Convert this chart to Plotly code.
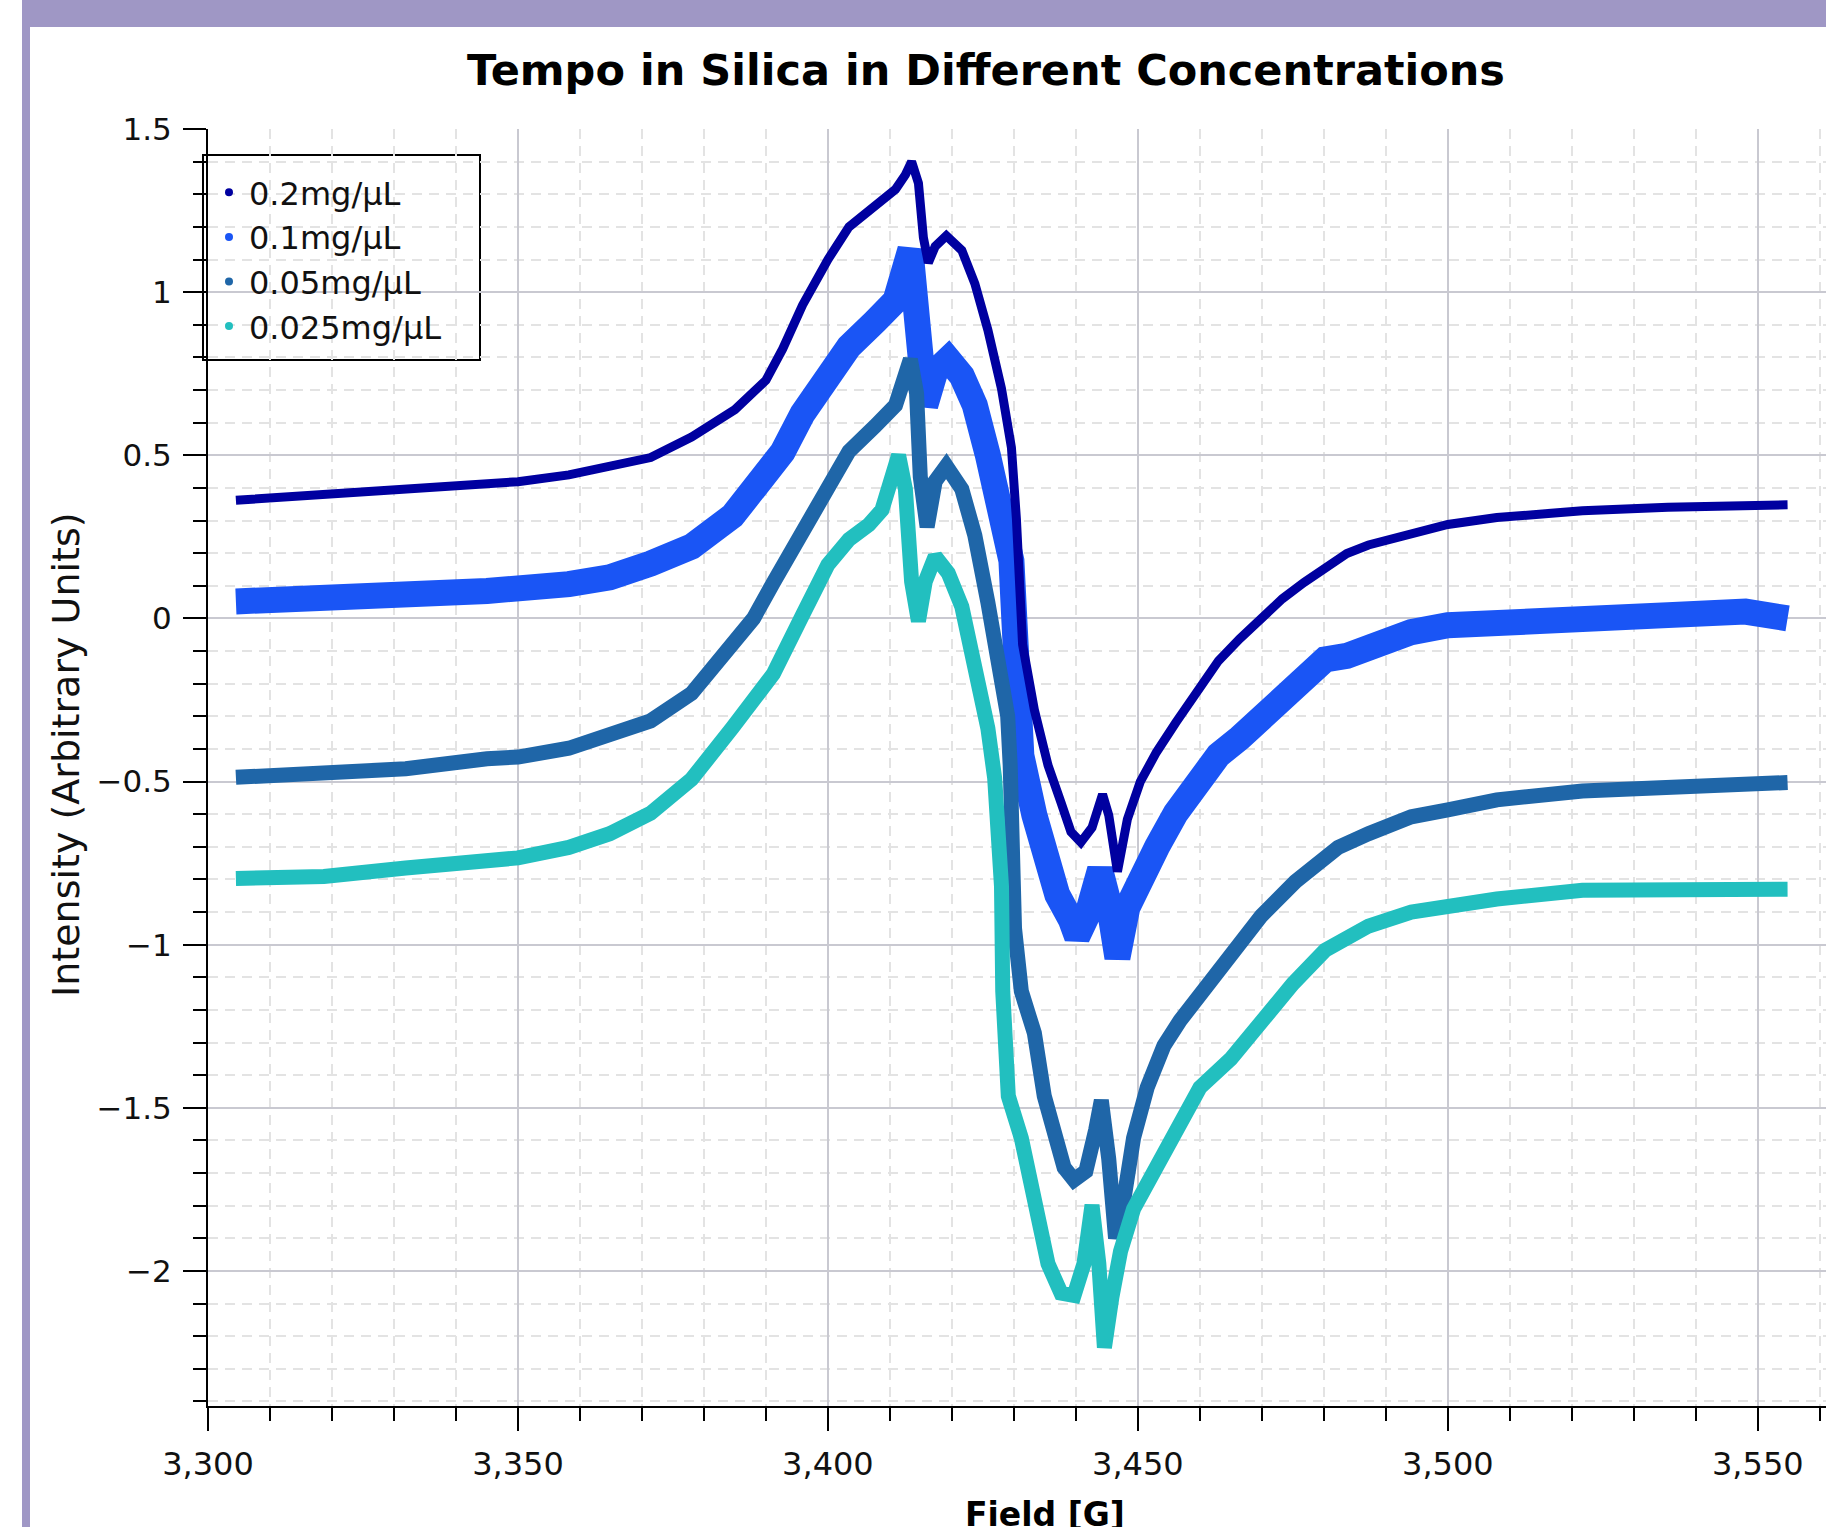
import plotly.graph_objects as go

# ---------------- data ----------------
series_names = ["0.2mg/µL", "0.1mg/µL", "0.05mg/µL", "0.025mg/µL"]
series_colors = ["#0000a0", "#1a55f5", "#1f66a8", "#22bfbf"]

field_02 = [3304.5, 3318.7, 3331.9, 3345, 3350, 3358.2, 3364.8, 3371.4, 3378, 3382.6,
            3385, 3390, 3392.7, 3395.9, 3400, 3403.4, 3407.6, 3410.9, 3412.5, 3413.5,
            3414.6, 3415.4, 3416.2, 3417.3, 3419.1, 3421.6, 3423.7, 3425.8, 3428, 3429.6,
            3430.4, 3430.9, 3431.4, 3433.3, 3435.5, 3437.6, 3439.2, 3440.8, 3442.6, 3444.3,
            3445.3, 3446.7, 3448.3, 3450.4, 3453, 3456.1, 3459.5, 3463, 3466.4, 3469.9,
            3473.3, 3476.8, 3480.2, 3483.7, 3487.2, 3494.1, 3500, 3507.9, 3521.7, 3535.5,
            3554.8]
int_02 = [0.362, 0.379, 0.393, 0.414, 0.419, 0.44, 0.466, 0.493, 0.556, 0.608,
          0.64, 0.73, 0.826, 0.96, 1.10, 1.20, 1.263, 1.315, 1.36, 1.40,
          1.334, 1.167, 1.09, 1.14, 1.173, 1.128, 1.026, 0.884, 0.704, 0.524,
          0.306, 0.113, -0.08, -0.28, -0.45, -0.564, -0.654, -0.686, -0.641, -0.539,
          -0.603, -0.776, -0.616, -0.50, -0.41, -0.32, -0.225, -0.13, -0.063, 0.0,
          0.06, 0.11, 0.157, 0.199, 0.225, 0.262, 0.288, 0.309, 0.33, 0.341,
          0.348]

field_01 = [3304.5, 3318.7, 3331.9, 3345, 3358.2, 3364.8, 3371.4, 3378, 3384.6, 3391.2,
            3392.7, 3395.9, 3400, 3403.4, 3407.6, 3410.9, 3413.3, 3414.3, 3415.1, 3415.7,
            3417.3, 3419.4, 3421.6, 3423.7, 3425.8, 3428, 3429.6, 3430.1, 3430.6, 3431.2,
            3433.3, 3434.9, 3437.0, 3439.2, 3440.2, 3441.8, 3443.9, 3445.3, 3446.7, 3448.3,
            3450.4, 3453.1, 3456.1, 3459.5, 3463, 3466.4, 3469.9, 3473.3, 3476.8, 3480.2,
            3483.7, 3487.2, 3494.1, 3500, 3507.9, 3521.7, 3535.5, 3548, 3554.8]
int_01 = [0.052, 0.063, 0.063, 0.084, 0.105, 0.126, 0.168, 0.22, 0.314, 0.45,
          0.51, 0.627, 0.756, 0.833, 0.91, 0.974, 1.13, 0.987, 0.756, 0.653,
          0.756, 0.794, 0.743, 0.653, 0.50, 0.344, 0.177, -0.015, -0.208, -0.42,
          -0.603, -0.731, -0.847, -0.924, -0.976, -0.911, -0.77, -0.873, -1.04, -0.886,
          -0.783, -0.70, -0.597, -0.503, -0.419, -0.367, -0.304, -0.231, -0.189, -0.126,
          -0.115, -0.084, -0.042, -0.021, -0.01, 0.005, 0.01, 0.021, 0.0]

field_005 = [3304.5, 3318.7, 3331.9, 3345, 3350, 3358.2, 3364.8, 3371.4, 3378, 3384.6,
             3388, 3391.2, 3395.9, 3400, 3403.4, 3407.6, 3410.9, 3413.3, 3414.3, 3414.9,
             3416, 3417.3, 3419.1, 3421.6, 3423.7, 3425.8, 3427.4, 3429, 3429.4, 3429.6,
             3430.1, 3431.2, 3433.3, 3434.9, 3436.5, 3438.1, 3439.7, 3441.6, 3443.2, 3444.1,
             3445.3, 3446.4, 3447.7, 3449.3, 3451.5, 3454.2, 3456.8, 3460, 3464.4, 3469.9,
             3475.4, 3482.3, 3487.2, 3494.1, 3500, 3507.9, 3521.7, 3535.5, 3554.8]
int_005 = [-0.487, -0.472, -0.461, -0.43, -0.425, -0.398, -0.356, -0.314, -0.23, -0.084,
           0.0, 0.11, 0.26, 0.409, 0.512, 0.589, 0.653, 0.794, 0.69, 0.434,
           0.28, 0.42, 0.467, 0.396, 0.254, 0.049, -0.144, -0.30, -0.45, -0.693,
           -0.95, -1.143, -1.271, -1.464, -1.593, -1.683, -1.721, -1.695, -1.567, -1.477,
           -1.657, -1.90, -1.785, -1.593, -1.438, -1.31, -1.233, -1.155, -1.03, -0.912,
           -0.807, -0.702, -0.66, -0.608, -0.587, -0.556, -0.529, -0.514, -0.503]

field_0025 = [3304.5, 3318.7, 3331.9, 3350, 3358.2, 3364.8, 3371.4, 3378, 3384.6, 3391.2,
              3395.9, 3400, 3403.4, 3406.6, 3408.7, 3411.4, 3412.5, 3413.5, 3414.6, 3415.7,
              3417.3, 3419.4, 3421.6, 3423.7, 3425.8, 3426.9, 3428, 3428.2, 3429.1, 3431.2,
              3433.3, 3435.5, 3437.6, 3439.7, 3441.3, 3442.6, 3443.7, 3444.6, 3445.8, 3447.2,
              3449.3, 3452.6, 3455.7, 3460, 3465, 3470, 3475, 3480.2, 3487.2, 3494.1,
              3500, 3507.9, 3521.7, 3535.5, 3554.8]
int_0025 = [-0.797, -0.791, -0.765, -0.734, -0.702, -0.66, -0.597, -0.493, -0.335, -0.17,
            0.01, 0.165, 0.242, 0.287, 0.332, 0.50, 0.396, 0.113, -0.009, 0.113,
            0.19, 0.139, 0.036, -0.144, -0.337, -0.49, -0.821, -1.143, -1.464, -1.593,
            -1.785, -1.978, -2.068, -2.075, -1.978, -1.798, -1.978, -2.235, -2.081, -1.94,
            -1.81, -1.695, -1.567, -1.438, -1.35, -1.23, -1.12, -1.017, -0.943, -0.90,
            -0.88, -0.86, -0.833, -0.828, -0.83]

x_ticks = [3300, 3350, 3400, 3450, 3500, 3550]
y_ticks = [1.5, 1, 0.5, 0, -0.5, -1, -1.5, -2]

# ---------------- layout geometry (pixels) ----------------
W, H = 1826, 1527
L, R, T, B = 208, 0, 129, 121
pw, ph = W - L - R, H - T - B


def px(xp):
    return (xp - L) / pw


def py(yp):
    return (H - B - yp) / ph


FONT = "DejaVu Sans"

fig = go.Figure()

fields = [field_02, field_01, field_005, field_0025]
ints = [int_02, int_01, int_005, int_0025]
widths = [9, 26, 15, 15]
draw_order = [1, 0, 2, 3]
for i in draw_order:
    fig.add_trace(go.Scatter(
        x=fields[i], y=ints[i], mode="lines", name=series_names[i],
        line=dict(color=series_colors[i], width=widths[i]),
        showlegend=False, hoverinfo="x+y"))

# legend entries (dot markers, as in the reference)
for i in range(4):
    fig.add_trace(go.Scatter(
        x=[None], y=[None], mode="markers", name=series_names[i],
        marker=dict(color=series_colors[i], size=8, symbol="circle"),
        showlegend=True))

fig.update_layout(
    width=W, height=H, autosize=False,
    margin=dict(l=L, r=R, t=T, b=B, pad=0),
    paper_bgcolor="white", plot_bgcolor="white",
    font=dict(family=FONT, color="#111111", size=32),
    title=dict(text="Tempo in Silica in Different Concentrations",
               font=dict(family=FONT, size=43, color="black", weight="bold"),
               x=px(986), xref="paper", xanchor="center",
               y=1 - 70 / H, yref="container", yanchor="middle"),
    legend=dict(x=px(209), y=py(165), xanchor="left", yanchor="top",
                bgcolor="rgba(0,0,0,0)", borderwidth=0,
                font=dict(family=FONT, size=32, color="#111111"),
                itemwidth=30, tracegroupgap=0),
    showlegend=True,
    xaxis=dict(range=[3300, 3561], tickvals=x_ticks, tickformat=",d",
               ticks="outside", ticklen=23, tickwidth=2, tickcolor="black",
               showline=True, linewidth=2, linecolor="black",
               showgrid=True, gridcolor="#c9c9d1", gridwidth=1.5,
               zeroline=False, ticklabelstandoff=6,
               tickfont=dict(family=FONT, size=32, color="#111111"),
               minor=dict(dtick=10, tick0=3300, ticks="outside", ticklen=13,
                          tickwidth=2, tickcolor="black", showgrid=True,
                          gridcolor="#e3e3e3", gridwidth=1.5, griddash="10px,7px")),
    yaxis=dict(range=[-2.414, 1.5], tickvals=y_ticks,
               ticks="outside", ticklen=23, tickwidth=2, tickcolor="black",
               showline=True, linewidth=2, linecolor="black",
               showgrid=True, gridcolor="#c9c9d1", gridwidth=1.5,
               zeroline=False, ticklabelstandoff=5,
               tickfont=dict(family=FONT, size=31, color="#111111"),
               minor=dict(dtick=0.1, tick0=0, ticks="outside", ticklen=13,
                          tickwidth=2, tickcolor="black", showgrid=True,
                          gridcolor="#e3e3e3", gridwidth=1.5, griddash="10px,7px")),
)

# legend frame (white box with black border, as in the reference)
fig.add_shape(type="rect", xref="paper", yref="paper", layer="between",
              x0=px(203), x1=px(480), y0=py(360), y1=py(155),
              fillcolor="white", line=dict(color="black", width=2))

# axis titles
fig.add_annotation(text="Field [G]", xref="paper", yref="paper",
                   x=px(1045), y=py(1514), xanchor="center", yanchor="middle",
                   showarrow=False,
                   font=dict(family=FONT, size=33, color="black", weight="bold"))
fig.add_annotation(text="Intensity (Arbitrary Units)", xref="paper", yref="paper",
                   x=px(66), y=py(755), xanchor="center", yanchor="middle",
                   textangle=-90, showarrow=False,
                   font=dict(family=FONT, size=38, color="#111111"))

# purple frame of the original window
PURPLE = "#9f97c5"
fig.add_shape(type="rect", xref="paper", yref="paper", layer="above",
              x0=px(22), x1=px(W + 5), y0=py(27), y1=py(-5),
              fillcolor=PURPLE, line=dict(width=0))
fig.add_shape(type="rect", xref="paper", yref="paper", layer="above",
              x0=px(22), x1=px(30), y0=py(H + 5), y1=py(0),
              fillcolor=PURPLE, line=dict(width=0))

fig.write_html("out.html", config={"displayModeBar": False},
               post_script="document.body.style.margin='0';")
